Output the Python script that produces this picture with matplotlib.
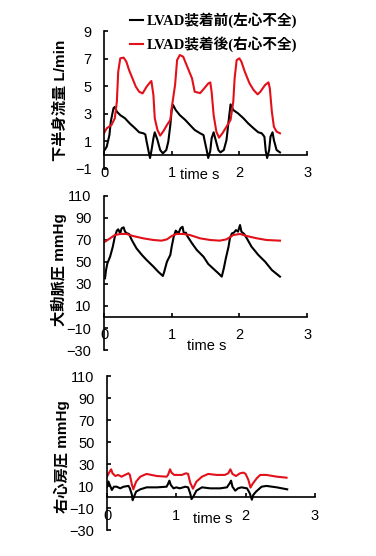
import matplotlib
matplotlib.use("Agg")
import matplotlib.pyplot as plt
from matplotlib.font_manager import FontProperties

# 下半身流量 (L/min)
flow_before_t = [0, 0.04, 0.08, 0.10, 0.14, 0.16, 0.19, 0.24, 0.31, 0.38, 0.46, 0.52, 0.58, 0.61, 0.63, 0.66,
                 0.68, 0.70, 0.73, 0.75, 0.79, 0.83, 0.87, 0.92, 0.95, 0.98, 1.00, 1.02, 1.06, 1.12, 1.20, 1.27,
                 1.34, 1.42, 1.47, 1.49, 1.52, 1.54, 1.57, 1.59, 1.62, 1.65, 1.69, 1.72, 1.77, 1.81, 1.84, 1.87,
                 1.91, 1.98, 2.06, 2.13, 2.21, 2.28, 2.33, 2.37, 2.39, 2.41, 2.44, 2.46, 2.49, 2.51, 2.55, 2.60]
flow_before = [0.29, 0.6, 1.45, 2.42, 3.4, 3.5, 3.15, 2.9, 2.67, 2.3, 1.94, 1.65, 1.58, 1.5, 0.97, 0.24,
               -0.22, 0.29, 1.21, 1.65, 1.09, 0.36, 0.12, 0.36, 0.97, 2.18, 3.27, 3.64, 3.27, 2.9, 2.55, 2.18,
               1.82, 1.58, 1.45, 0.97, 0.29, -0.22, 0.29, 1.21, 1.65, 1.09, 0.36, 0.19, 0.36, 1.09, 2.42, 3.68,
               3.27, 3.03, 2.67, 2.3, 1.94, 1.65, 1.58, 1.33, 0.29, -0.22, 0.36, 1.33, 1.65, 1.09, 0.36, 0.19]
flow_after_t = [0, 0.04, 0.11, 0.16, 0.19, 0.21, 0.24, 0.29, 0.33, 0.37, 0.42, 0.47, 0.52, 0.57, 0.63, 0.68,
                0.70, 0.73, 0.75, 0.79, 0.83, 0.88, 0.93, 0.98, 1.00, 1.05, 1.08, 1.12, 1.17, 1.23, 1.30, 1.34,
                1.42, 1.49, 1.54, 1.57, 1.59, 1.62, 1.66, 1.70, 1.75, 1.81, 1.87, 1.91, 1.93, 1.96, 2.00, 2.03,
                2.08, 2.15, 2.21, 2.27, 2.31, 2.38, 2.43, 2.45, 2.48, 2.51, 2.55, 2.60]
flow_after = [1.58, 1.94, 2.18, 2.67, 3.88, 6.06, 7.03, 7.08, 6.79, 6.18, 5.58, 4.97, 4.6, 4.48, 4.97, 5.28,
              5.38, 4.36, 2.67, 1.82, 1.41, 1.75, 2.18, 2.55, 3.4, 5.09, 6.9, 7.27, 7.15, 6.42, 5.58, 4.6,
              4.5, 4.9, 5.2, 5.28, 4.6, 2.9, 1.7, 1.26, 1.58, 2.06, 2.55, 3.88, 5.58, 6.9, 7.03, 6.79,
              6.06, 5.21, 4.73, 4.41, 4.6, 5.09, 5.28, 4.85, 3.15, 2.06, 1.7, 1.58]

# 大動脈圧 (mmHg)
aop_before_t = [0.015, 0.03, 0.05, 0.09, 0.13, 0.16, 0.19, 0.21, 0.24, 0.26, 0.29, 0.31, 0.34, 0.37, 0.41, 0.48,
                0.56, 0.63, 0.73, 0.80, 0.87, 0.89, 0.93, 0.98, 1.00, 1.03, 1.06, 1.10, 1.13, 1.16, 1.18, 1.21,
                1.23, 1.30, 1.37, 1.47, 1.54, 1.61, 1.69, 1.74, 1.77, 1.80, 1.84, 1.86, 1.89, 1.92, 1.95, 1.98,
                2.01, 2.03, 2.07, 2.11, 2.18, 2.28, 2.38, 2.48, 2.60]
aop_before = [35.2, 42.7, 48.8, 54.8, 63.9, 73, 78.5, 79.7, 76, 80.6, 81.5, 77.6, 76, 75.5, 70, 62.4,
              56.4, 51.8, 45.8, 41.2, 37.3, 41.2, 50.3, 56.4, 63.9, 73, 78.5, 76, 80.6, 82, 76, 76.7,
              73.6, 67, 61, 54.8, 48.2, 44.2, 39.7, 36.7, 44.2, 53.3, 63.9, 71.5, 76, 76.7, 79, 77.6,
              83.6, 77.6, 75.5, 71.5, 63.9, 56.4, 50.3, 42.7, 36.7]
aop_after_t = [0.015, 0.09, 0.16, 0.24, 0.33, 0.43, 0.58, 0.73, 0.85, 0.93, 1.00, 1.07, 1.17, 1.27, 1.42, 1.57,
               1.71, 1.81, 1.91, 2.01, 2.11, 2.26, 2.40, 2.60]
aop_after = [68.5, 71.5, 74.5, 75.5, 75.5, 73.6, 71.5, 70, 69.4, 70.6, 73.6, 75.5, 75.5, 74.5, 71.5, 70,
             69.4, 70.6, 74.5, 75.5, 73.6, 71.5, 70, 69.4]

# 右心房圧 (mmHg)
rap_before_t = [0, 0.02, 0.04, 0.07, 0.10, 0.14, 0.19, 0.24, 0.31, 0.33, 0.36, 0.37, 0.39, 0.42, 0.48, 0.57,
                0.72, 0.86, 0.88, 0.90, 0.92, 0.96, 1.00, 1.05, 1.13, 1.17, 1.20, 1.22, 1.25, 1.29, 1.37, 1.49,
                1.63, 1.73, 1.77, 1.79, 1.81, 1.85, 1.89, 1.94, 2.02, 2.06, 2.09, 2.11, 2.15, 2.23, 2.30, 2.45,
                2.60]
rap_before = [9.8, 14.5, 11.4, 6.8, 9.8, 9.8, 8.3, 9.8, 10.5, 8.3, 2.3, -2.5, 0.8, 5.3, 7.4, 9.2,
              9.2, 9.8, 12.3, 15.3, 11.4, 8.3, 9.2, 8.3, 9.8, 9.2, 3.8, -1.5, 1.4, 6.2, 9.2, 8.3,
              8.3, 9.2, 12.9, 15.3, 9.8, 6.2, 8.3, 9.2, 8.3, 3.8, -2.0, 2.3, 5.3, 9.8, 10.5, 9.2,
              7.4]
rap_after_t = [0, 0.03, 0.06, 0.08, 0.12, 0.16, 0.21, 0.26, 0.31, 0.33, 0.36, 0.38, 0.42, 0.48, 0.57, 0.72,
               0.86, 0.88, 0.91, 0.93, 0.97, 1.03, 1.08, 1.14, 1.17, 1.20, 1.24, 1.29, 1.37, 1.46, 1.58, 1.70,
               1.75, 1.78, 1.81, 1.86, 1.92, 1.97, 2.00, 2.04, 2.07, 2.10, 2.16, 2.21, 2.30, 2.45, 2.59]
rap_after = [18.9, 22.6, 25.6, 22, 19.5, 20.5, 18.9, 20.5, 22, 20.5, 11.4, 7.5, 14.4, 18.9, 21.4, 19.5,
             18.9, 20.5, 25.6, 22.6, 20.5, 20.5, 20.5, 22, 21.4, 13.5, 8.0, 14.4, 18.9, 21.4, 20.5, 20.5,
             22, 25.6, 21.4, 19.5, 22, 22.6, 21.4, 15.9, 9.0, 12.3, 17.4, 20.5, 20.5, 18.9, 18]

label_before = "LVAD装着前(左心不全)"
label_after = "LVAD装着後(右心不全)"
red = "#e3101a"

sans = ["Liberation Sans", "Noto Sans CJK JP"]
tick_font = FontProperties(family=["Liberation Sans"], size=10.5)
ylab_font = FontProperties(family=sans, size=11, weight="bold")
leg_font = FontProperties(family=["Liberation Serif", "Noto Sans CJK JP"], weight="bold", size=10.5)

fig = plt.figure(figsize=(3.76, 5.56), dpi=100)

panels = [
    dict(rect=[0.2766, 0.6965, 0.54, 0.2473], t1=flow_before_t, y1=flow_before, t2=flow_after_t, y2=flow_after,
         ylim=(-1, 9), yticks=[-1, 1, 3, 5, 7, 9], ylabel="下半身流量 L/min", lab=(-0.18, 0.5),
         tpos=(1.42, -1.45)),
    dict(rect=[0.2766, 0.3705, 0.54, 0.277], t1=aop_before_t, y1=aop_before, t2=aop_after_t, y2=aop_after,
         ylim=(-30, 110), yticks=list(range(-30, 111, 20)), ylabel="大動脈圧 mmHg", lab=(-0.18, 0.52),
         tpos=(1.52, -26)),
    dict(rect=[0.2846, 0.0459, 0.553, 0.277], t1=rap_before_t, y1=rap_before, t2=rap_after_t, y2=rap_after,
         ylim=(-30, 110), yticks=list(range(-30, 111, 20)), ylabel="右心房圧 mmHg", lab=(-0.18, 0.48),
         tpos=(1.52, -19.5)),
]

for i, p in enumerate(panels):
    ax = fig.add_axes(p["rect"])
    l1, = ax.plot(p["t1"], p["y1"], color="black", lw=1.5, label=label_before)
    l2, = ax.plot(p["t2"], p["y2"], color=red, lw=1.5, label=label_after)
    ax.set_xlim(0, 3)
    ax.set_ylim(*p["ylim"])
    ax.set_xticks([0, 1, 2, 3])
    ax.set_yticks(p["yticks"])
    ax.spines["top"].set_visible(False)
    ax.spines["right"].set_visible(False)
    ax.spines["bottom"].set_position(("data", 0))
    for s in ["left", "bottom"]:
        ax.spines[s].set_linewidth(1.2)
    ax.tick_params(axis="both", direction="in", length=3, width=1.2)
    ax.tick_params(axis="x", pad=8)
    ax.tick_params(axis="y", pad=9)
    for lab in ax.get_xticklabels() + ax.get_yticklabels():
        lab.set_fontproperties(tick_font)
    ax.set_ylabel(p["ylabel"], fontproperties=ylab_font)
    ax.yaxis.set_label_coords(*p["lab"])
    ax.text(p["tpos"][0], p["tpos"][1], "time s", fontproperties=tick_font,
            ha="center", va="center", clip_on=False)
    if i == 0:
        fig.legend(handles=[l1, l2], prop=leg_font, loc="upper left", bbox_to_anchor=(0.345, 0.978),
                   frameon=False, handlelength=0.9, handletextpad=0.25, labelspacing=0.6,
                   borderaxespad=0, borderpad=0)

fig.savefig("out.png", dpi=100)
